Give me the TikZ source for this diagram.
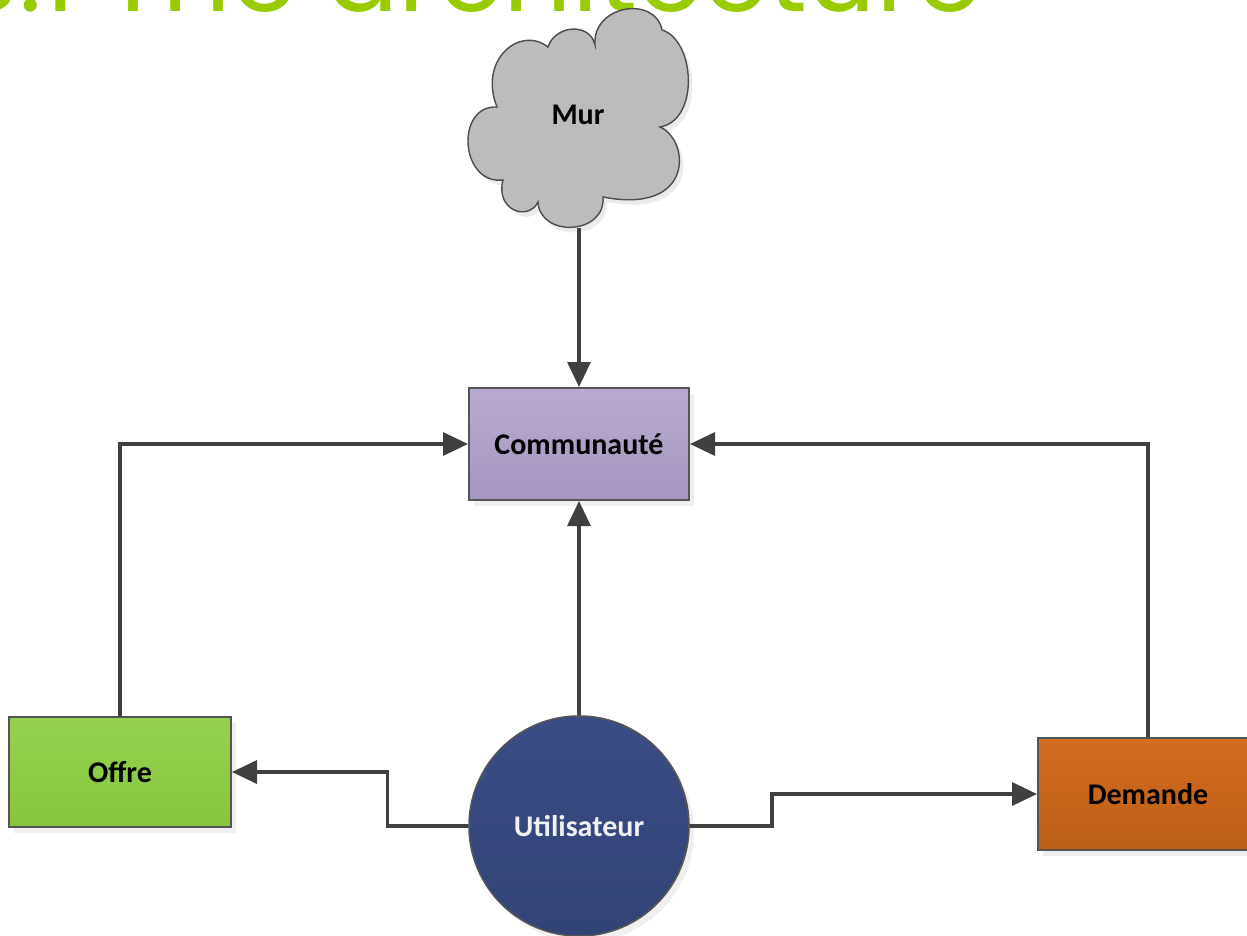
\documentclass[tikz,border=0pt]{standalone}
\usepackage{fontspec}
\usepackage{graphicx}
\setmainfont{Carlito}
\newfontfamily\titlefont{Poppins}
\usetikzlibrary{arrows.meta,shadows}
\definecolor{titlegreen}{RGB}{153,204,0}
\definecolor{linegray}{RGB}{64,64,64}
\definecolor{bordergray}{RGB}{85,85,85}
\definecolor{lavtop}{RGB}{184,170,208}
\definecolor{lavbot}{RGB}{166,150,192}
\definecolor{grtop}{RGB}{148,210,80}
\definecolor{grbot}{RGB}{134,198,60}
\definecolor{ortop}{RGB}{212,108,32}
\definecolor{orbot}{RGB}{188,94,22}
\definecolor{bltop}{RGB}{57,76,133}
\definecolor{blbot}{RGB}{50,68,118}
\definecolor{cloudgray}{RGB}{188,188,188}
\tikzset{
  boxsty/.style={draw=bordergray, line width=1pt, minimum width=110pt, minimum height=56pt,
    inner sep=0pt, font=\fontsize{15}{18}\selectfont\bfseries, text=black,
    drop shadow={shadow xshift=2.5pt, shadow yshift=-3pt, opacity=0.12}},
  usersty/.style={circle, draw=bordergray, line width=0.8pt, minimum size=110pt, inner sep=0pt,
    top color=bltop, bottom color=blbot, font=\fontsize{15}{18}\selectfont\bfseries, text=white!94!black,
    drop shadow={shadow xshift=2.5pt, shadow yshift=-3pt, opacity=0.12}},
  conn/.style={draw=linegray, line width=1.7pt, -{Triangle[length=12.5pt,width=11.5pt]}},
  cloudsty/.style={fill=cloudgray, draw=bordergray!90!black, line width=0.7pt},
}
\begin{document}
\begin{tikzpicture}[x=0.5pt,y=-0.5pt]
\useasboundingbox (0,0) rectangle (1247,936);
\clip (0,0) rectangle (1247,936);
\fill[white] (0,0) rectangle (1247,936);
% title (cut off at top)
\node[anchor=base west, inner sep=0pt, text=titlegreen] (title) at (-44,12)
  {\resizebox{513pt}{!}{\titlefont 3.1 The architecture}};
% cloud shadow
\path[fill=black, opacity=0.08, shift={(4,5)}] (595,45) .. controls (592,5) and (655,-5) .. (662,30)
  .. controls (695,40) and (700,120) .. (660,127)
  .. controls (690,140) and (695,215) .. (603,197)
  .. controls (606,235) and (540,238) .. (538,202)
  .. controls (528,222) and (495,210) .. (503,180)
  .. controls (460,185) and (455,105) .. (497,107)
  .. controls (478,60) and (520,25) .. (548,47)
  .. controls (555,25) and (590,22) .. (595,45) -- cycle;
% cloud
\path[cloudsty] (595,45) .. controls (592,5) and (655,-5) .. (662,30)
  .. controls (695,40) and (700,120) .. (660,127)
  .. controls (690,140) and (695,215) .. (603,197)
  .. controls (606,235) and (540,238) .. (538,202)
  .. controls (528,222) and (495,210) .. (503,180)
  .. controls (460,185) and (455,105) .. (497,107)
  .. controls (478,60) and (520,25) .. (548,47)
  .. controls (555,25) and (590,22) .. (595,45) -- cycle;
\node[font=\fontsize{15}{18}\selectfont\bfseries] (mur) at (578,115) {Mur};
\coordinate (murbot) at (579,228);
% nodes
\node[boxsty, top color=lavtop, bottom color=lavbot] (comm) at (579,444) {Communaut\'e};
\node[boxsty, minimum width=111pt, minimum height=55pt, top color=grtop, bottom color=grbot] (offre) at (120,772) {Offre};
\node[boxsty, top color=ortop, bottom color=orbot] (dem) at (1148,794) {Demande};
\node[usersty] (util) at (579,826) {Utilisateur};
% connectors
\draw[conn] (murbot) -- (comm.north);
\draw[conn] (util.north) -- (comm.south);
\draw[conn] (offre.north) |- (comm.west);
\draw[conn] (dem.north) |- (comm.east);
\draw[conn] (util.west) -- ++(-81,0) |- (offre.east);
\draw[conn] (util.east) -- ++(82,0) |- (dem.west);
\end{tikzpicture}
\end{document}
